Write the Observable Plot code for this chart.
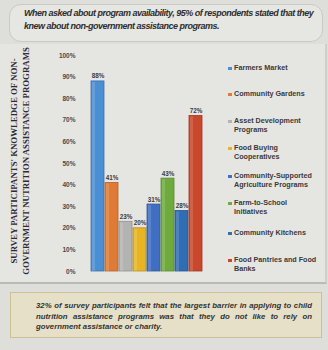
<!DOCTYPE html>
<html><head><meta charset="utf-8">
<script src="https://cdn.jsdelivr.net/npm/d3@7"></script>
<script src="https://cdn.jsdelivr.net/npm/@observablehq/plot@0.6"></script>
<style>
html,body{margin:0;padding:0;}
body{width:328px;height:350px;background:#dededb;position:relative;overflow:hidden;font-family:"Liberation Sans",Arial,sans-serif;}
#top{position:absolute;left:9px;top:4px;width:298px;height:34px;border:1px solid #c9c9c5;border-radius:12px;background:#e6e6e3;padding:2px 0 0 14px;
 font-style:italic;font-weight:bold;font-size:9px;line-height:13px;letter-spacing:-0.5px;color:#2e2e2e;}
#panel{position:absolute;left:0;top:44px;width:325px;height:238px;background:#e5e5e2;border-right:2px solid #cfcfcb;border-bottom:2px solid #b9b9b5;}
#chart{position:absolute;left:0;top:45px;}
#ytitle{position:absolute;left:20px;top:161px;width:230px;transform:translate(-50%,-50%) rotate(-90deg);text-align:center;
 font-family:"Liberation Serif","DejaVu Serif",serif;font-weight:bold;font-size:8.8px;line-height:12px;color:#2a2a3a;white-space:nowrap;}
#legend{position:absolute;left:228px;top:64px;width:100px;}
.item{position:absolute;left:0;width:100px;font-weight:bold;font-size:7.2px;line-height:8.5px;color:#3a3a3a;padding-left:6px;white-space:nowrap;}
.sw{position:absolute;left:0;top:2.5px;width:4px;height:3px;}
#bottom{position:absolute;left:10px;top:292px;width:310px;height:44px;background:#e6e0c8;border:1px solid #cdbf98;}
#btext{position:absolute;left:36px;top:301px;width:276px;font-style:italic;font-weight:bold;font-size:7.8px;line-height:10.5px;color:#333;text-align:justify;}
</style></head>
<body>
<div id="top">When asked about program availability, 95% of respondents stated that they knew about non-government assistance programs.</div>
<div id="panel"></div>
<div id="chart"></div>
<div id="ytitle">SURVEY PARTICIPANTS' KNOWLEDGE OF NON-<br>GOVERNMENT NUTRITION ASSISTANCE PROGRAMS</div>
<div id="legend"></div>
<div id="bottom"></div>
<div id="btext">32% of survey participants felt that the largest barrier in applying to child nutrition assistance programs was that they do not like to rely on government assistance or charity.</div>
<script>
const programs = ["Farmers Market","Community Gardens","Asset Development Programs","Food Buying Cooperatives","Community-Supported Agriculture Programs","Farm-to-School Initiatives","Community Kitchens","Food Pantries and Food Banks"];
const legendLines = [["Farmers Market"],["Community Gardens"],["Asset Development","Programs"],["Food Buying","Cooperatives"],["Community-Supported","Agriculture Programs"],["Farm-to-School","Initiatives"],["Community Kitchens"],["Food Pantries and Food","Banks"]];
const percents = [88,41,23,20,31,43,28,72];
const colors = ["#4a8ed3","#e07b36","#b3b3b1","#e6b521","#3f6ec2","#6fab3c","#2f6db4","#c9472a"];
const yTicks = [0,10,20,30,40,50,60,70,80,90,100];

const data = programs.map((p,i)=>({program:p, value:percents[i], color:colors[i], edge:d3.color(colors[i]).darker(0.6).formatHex()}));

const chart = Plot.plot({
  width: 328, height: 240,
  marginLeft: 87, marginRight: 121, marginTop: 10, marginBottom: 14,
  style: {background: "transparent", fontFamily: "Liberation Sans, Arial, sans-serif"},
  x: {domain: programs, padding: 0.06, axis: null},
  y: {domain: [0,100], axis: null},
  color: {type: "identity"},
  marks: [
    Plot.axisY(yTicks, {tickSize: 0, tickPadding: 12, tickFormat: d => d + "%", fontSize: 6.5, fontWeight: "bold", fill: "#4a4a4a", label: null}),
    Plot.barY(data, {x: "program", y: "value", fill: d => d.color, stroke: d => d.edge, strokeWidth: 0.8}),
    Plot.barY(data, {x: "program", y: "value", fill: "#ffffff", fillOpacity: 0.15, insetLeft: 1, insetRight: 9, insetTop: 1}),
    Plot.text(data, {x: "program", y: "value", text: d => d.value + "%", dy: -5, fontSize: 6.3, fontWeight: "bold", fill: "#3c3c3c"})
  ]
});
document.getElementById("chart").appendChild(chart);

const tops = [0, 26, 53, 80, 108, 135, 165, 192];
const leg = document.getElementById("legend");
legendLines.forEach((lines,i)=>{
  const d = document.createElement("div");
  d.className = "item";
  d.style.top = tops[i] + "px";
  d.innerHTML = `<span class="sw" style="background:${colors[i]}"></span>` + lines.join("<br>");
  leg.appendChild(d);
});
</script>
</body></html>
